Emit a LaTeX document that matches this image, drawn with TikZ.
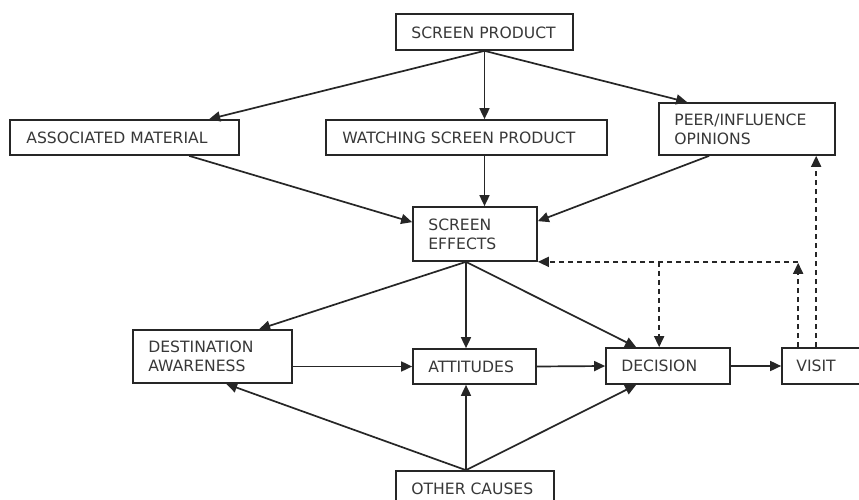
\documentclass[tikz,border=0pt]{standalone}
\usepackage{fontspec}
\setmainfont{DejaVu Sans}
\usetikzlibrary{calc,arrows.meta}
\begin{document}
\begin{tikzpicture}[x=1pt,y=-1pt,
  box/.style={draw=black!85, line width=1.7pt, inner sep=0pt},
  txt/.style={anchor=west, inner sep=0pt, align=left, text=black!78, font=\fontsize{15.6}{19}\selectfont},
  arr/.style={draw=black!85, line width=1.7pt, -{Triangle[length=11pt,width=10pt]}},
  darr/.style={arr, dash pattern=on 5pt off 4pt}]
\useasboundingbox (0,0) rectangle (859,500);
\clip (0,0) rectangle (859,500);
\fill[white] (0,0) rectangle (859,500);

% boxes
\node[box, minimum width=177pt, minimum height=36pt] (sp) at (484.5,32) {};
\node[box, minimum width=229pt, minimum height=35pt] (am) at (124.5,137.5) {};
\node[box, minimum width=281pt, minimum height=35pt] (wsp) at (466.5,137.5) {};
\node[box, minimum width=176pt, minimum height=52pt] (peer) at (747,129) {};
\node[box, minimum width=124pt, minimum height=54pt] (se) at (475,234) {};
\node[box, minimum width=159pt, minimum height=53pt] (da) at (212.5,356.5) {};
\node[box, minimum width=123pt, minimum height=35pt] (att) at (474.5,366.5) {};
\node[box, minimum width=124pt, minimum height=36pt] (dec) at (668,366) {};
\node[box, minimum width=118pt, minimum height=36pt] (visit) at (841,366) {};
\node[box, minimum width=158pt, minimum height=36pt] (oc) at (475,489) {};

% texts
\node[txt] (spt) at ($(sp.west)+(16,0.5)$) {SCREEN PRODUCT};
\node[txt] (amt) at ($(am.west)+(17,0)$) {ASSOCIATED MATERIAL};
\node[txt] (wspt) at ($(wsp.west)+(17,0)$) {WATCHING SCREEN PRODUCT};
\node[txt] (peert) at ($(peer.west)+(16,0)$) {PEER/INFLUENCE\\OPINIONS};
\node[txt] (set) at ($(se.west)+(16,0)$) {SCREEN\\EFFECTS};
\node[txt] (dat) at ($(da.west)+(16,0)$) {DESTINATION\\AWARENESS};
\node[txt] (attt) at ($(att.west)+(16,0)$) {ATTITUDES};
\node[txt] (dect) at ($(dec.west)+(16,0)$) {DECISION};
\node[txt] (visitt) at ($(visit.west)+(15,0)$) {VISIT};
\node[txt] (oct) at ($(oc.west)+(16,0)$) {OTHER CAUSES};

% helper coordinates
\coordinate (seb) at ($(se.south)+(-9,0)$);
\coordinate (ocn) at ($(oc.north)+(-9,0)$);
\coordinate (vt1) at ($(visit.north west)+(17,0)$);
\coordinate (vt2) at ($(visit.north west)+(35,0)$);
\coordinate (dtop) at ($(dec.north west)+(54,0)$);
\coordinate (hr) at (vt1 |- se.south east);
\coordinate (hm) at (dtop |- se.south east);

% solid connectors
\draw[arr] (sp.south) -- ($(am.north west)+(200,0)$);
\draw[arr] (sp.south) -- (sp.south |- wsp.north);
\draw[arr] (sp.south) -- ($(peer.north west)+(29,0)$);
\draw[arr] ($(am.south west)+(180,0)$) -- ($(se.north west)+(0,16)$);
\draw[arr] (sp.south |- wsp.south) -- (sp.south |- se.north);
\draw[arr] ($(peer.south west)+(51,0)$) -- ($(se.north east)+(0,15)$);
\draw[arr] (seb) -- ($(da.north west)+(127,0)$);
\draw[arr] (seb) -- (seb |- att.north);
\draw[arr] (seb) -- ($(dec.north west)+(31,0)$);
\draw[arr] (att.west -| da.east) -- (att.west);
\draw[arr] (att.east) -- (dec.west);
\draw[arr] (dec.east) -- (visit.west);
\draw[arr] (ocn) -- ($(da.south west)+(94,0)$);
\draw[arr] (ocn) -- (ocn |- att.south);
\draw[arr] (ocn) -- ($(dec.south west)+(31,0)$);

% dashed feedback
\draw[darr] (vt1) -- ($(hr)+(0,1)$);
\draw[darr] (hr) -- (se.south east);
\draw[darr] (hm) -- (dtop);
\draw[darr] (vt2) -- (vt2 |- peer.south);
\end{tikzpicture}
\end{document}
